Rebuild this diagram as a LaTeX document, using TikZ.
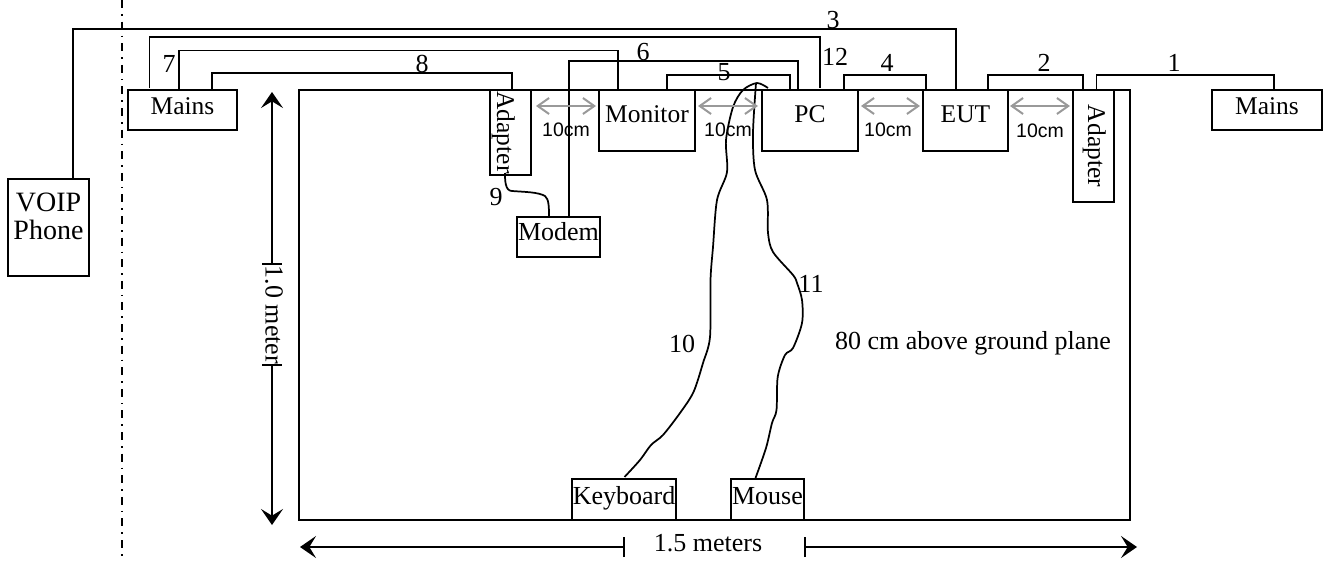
\documentclass[tikz,border=0pt]{standalone}
\usepackage{fontspec}
\setmainfont{Liberation Serif}
\setsansfont{Liberation Sans}
\usetikzlibrary{arrows.meta}
\newcommand\pxfont[1]{\fontsize{\dimexpr#1pt*3/4\relax}{\dimexpr#1pt*3/4\relax}\selectfont}
\newcommand\tx[2]{\raisebox{\dimexpr#1pt*3/4\relax}[0pt][0pt]{#2}}
\tikzset{
  sz/.style 2 args={minimum width=#1*0.75pt,minimum height=#2*0.75pt},
  unit/.style={draw=black,line width=1.3pt,inner sep=0pt,outer sep=0pt},
  big/.style={unit,font=\pxfont{25.5}},
  small/.style={unit,font=\pxfont{26}},
  wire/.style={draw=black,line width=1.3pt},
  cable/.style={wire,line join=round,smooth},
  num/.style={inner sep=0pt,font=\pxfont{26}},
  gap/.style={draw=black!40,line width=1.5pt,{Straight Barb[length=8.5pt,width=12pt]}-{Straight Barb[length=8.5pt,width=12pt]}},
  gaptext/.style={inner sep=0pt,font=\sffamily\pxfont{19.5}},
  dim/.style={draw=black,line width=1.3pt,-{Stealth[length=12pt,width=16.5pt,inset=5pt]}},
  dimbar/.style={draw=black,line width=1.3pt},
  dimtext/.style={inner sep=0pt,font=\pxfont{26}},
}
\begin{document}
\begin{tikzpicture}[x=0.75pt,y=-0.75pt]
\useasboundingbox (0,0) rectangle (1326,560);
% table
\node[draw=black,line width=1.6pt,inner sep=0pt,sz={831}{430}] (table) at (714.5,305) {};
% boundary
\coordinate (bt) at (122,0);
\coordinate (bb) at (122,560);
\draw[line width=1.4pt,dash pattern=on 6pt off 4.5pt on 1.2pt off 4.5pt] (bt) -- (bb);
% units
\node[big,sz={109}{40}] (mainsL) at (182.5,110) {\tx{-4}{Mains}};
\node[big,sz={110}{40}] (mainsR) at (1267,110) {\tx{-4}{Mains}};
\node[unit,font=\pxfont{28},sz={81}{97}] (voip) at (48.5,227.5) {\baselineskip=21pt\tx{-12}{\begin{tabular}[b]{@{}c@{}}VOIP\\Phone\end{tabular}}};
\node[big,sz={85}{41},rotate=-90] (adL) at (510.5,132.5) {\tx{-13.5}{Adapter}};
\node[big,sz={112}{41},rotate=-90] (adR) at (1093.5,146) {\tx{-5.5}{Adapter}};
\node[big,sz={96}{61}] (monitor) at (647,120.5) {\tx{-1.5}{Monitor}};
\node[big,sz={96}{61}] (pc) at (810,120.5) {\tx{-1.5}{PC}};
\node[big,sz={85}{61}] (eut) at (965.5,120.5) {\tx{-1.5}{EUT}};
\node[big,sz={83}{40},font=\pxfont{26}] (modem) at (558.5,237) {\tx{-3.7}{Modem}};
\node[small,sz={104}{41}] (keyboard) at (624,499.5) {\tx{-4.5}{Keyboard}};
\node[small,sz={73}{41}] (mouse) at (767.5,499.5) {\tx{-4.5}{Mouse}};
% routed wires
\coordinate (w3a) at (73,29);   \coordinate (w3b) at (956,29);
\draw[wire] (voip.north -| w3a) -- (w3a) -- (w3b) -- (eut.north -| w3b);
\coordinate (w12a) at (149.5,37); \coordinate (w12b) at (820,37);
\draw[wire] ([yshift=1.5pt]mainsL.north -| w12a) -- (w12a) -- (w12b) -- ([yshift=1.5pt]pc.north -| w12b);
\coordinate (w7a) at (179,50.5); \coordinate (w7b) at (618,50.5);
\draw[wire] (mainsL.north -| w7a) -- (w7a) -- (w7b) -- (monitor.north -| w7b);
\coordinate (w8a) at (212,73); \coordinate (w8b) at (512,73);
\draw[wire] (mainsL.north -| w8a) -- (w8a) -- (w8b) -- (table.north -| w8b);
\coordinate (w6a) at (569,61); \coordinate (w6b) at (798,61);
\draw[wire] (modem.north -| w6a) -- (w6a) -- (w6b) -- (pc.north -| w6b);
\coordinate (w5a) at (667,75); \coordinate (w5b) at (790,75);
\draw[wire] (monitor.north -| w5a) -- (w5a) -- (w5b) -- (pc.north -| w5b);
\coordinate (w4a) at (844,75); \coordinate (w4b) at (926,75);
\draw[wire] (pc.north -| w4a) -- (w4a) -- (w4b) -- (eut.north -| w4b);
\coordinate (w2a) at (988,75); \coordinate (w2b) at (1083,75);
\draw[wire] (eut.north -| w2a) -- (w2a) -- (w2b) -- (table.north -| w2b);
\coordinate (w1a) at (1096.5,75); \coordinate (w1b) at (1274,75);
\draw[wire] (table.north -| w1a) -- (w1a) -- (w1b) -- (mainsR.north -| w1b);
% freehand cables
\coordinate (w9s) at (505,173);
\draw[wire,line join=round] (w9s) .. controls (505,180) and (505,191) .. (512,191) .. controls (525,192) and (538,192) .. (545,196) .. controls (549,199) and (549,208) .. (549,217);
\draw[cable] plot[smooth,tension=0.5] coordinates {(624.5,477) (640,460) (651,445) (663,435) (680,413) (693.5,392) (703,363) (710,337) (710.5,280) (713,247) (717,200) (727,172) (726,140) (733,107) (743,90) (757,83) (768,88)};
\draw[cable] plot[smooth,tension=0.5] coordinates {(755.5,478) (766,448) (772,423) (776.5,410) (777.7,377) (785,355) (793,348) (802,323) (802,300) (797,283) (793,275) (773,252) (768,233) (767,200) (755,170) (753,133) (756,83)};
% cable numbers
\node[num] (n1) at (1174,63) {1};
\node[num] (n2) at (1044,63) {2};
\node[num] (n3) at (833,20) {3};
\node[num] (n4) at (887,63) {4};
\node[num] (n5) at (724,72) {5};
\node[num] (n6) at (643,52) {6};
\node[num] (n7) at (169,64) {7};
\node[num] (n8) at (422,64) {8};
\node[num] (n9) at (496,197) {9};
\node[num] (n10) at (682,344) {10};
\node[num] (n11) at (811,284) {11};
\node[num] (n12) at (835,57) {12};
% 10 cm gaps
\coordinate (g1a) at (536,106); \coordinate (g1b) at (596,106);
\coordinate (g2a) at (698,106); \coordinate (g2b) at (758,106);
\coordinate (g3a) at (861,106); \coordinate (g3b) at (920,106);
\coordinate (g4a) at (1010,106); \coordinate (g4b) at (1070,106);
\draw[gap] (g1a) -- (g1b);
\draw[gap] (g2a) -- (g2b);
\draw[gap] (g3a) -- (g3b);
\draw[gap] (g4a) -- (g4b);
\node[gaptext] (t1) at (566,130) {10cm};
\node[gaptext] (t2) at (728,130) {10cm};
\node[gaptext] (t3) at (888,130) {10cm};
\node[gaptext] (t4) at (1040,131) {10cm};
% dimensions
\node[dimtext,rotate=-90] (h) at (274,315) {1.0 meter};
\coordinate (htop) at (272,92);  \coordinate (hbot) at (272,525);
\coordinate (hb1) at (272,264);  \coordinate (hb2) at (272,365);
\draw[dim] (hb1) -- (htop);
\draw[dim] (hb2) -- (hbot);
\draw[dimbar] ([xshift=-7.5pt]hb1) -- ([xshift=7.5pt]hb1);
\draw[dimbar] ([xshift=-7.5pt]hb2) -- ([xshift=7.5pt]hb2);
\node[dimtext] (w) at (708,543) {1.5 meters};
\coordinate (wl) at (300,547);  \coordinate (wr) at (1137,547);
\coordinate (wb1) at (624,547); \coordinate (wb2) at (805,547);
\draw[dim] (wb1) -- (wl);
\draw[dim] (wb2) -- (wr);
\draw[dimbar] ([yshift=-7.5pt]wb1) -- ([yshift=7.5pt]wb1);
\draw[dimbar] ([yshift=-7.5pt]wb2) -- ([yshift=7.5pt]wb2);
\node[dimtext] (above) at (973,343) {80 cm above ground plane};
\end{tikzpicture}
\end{document}
